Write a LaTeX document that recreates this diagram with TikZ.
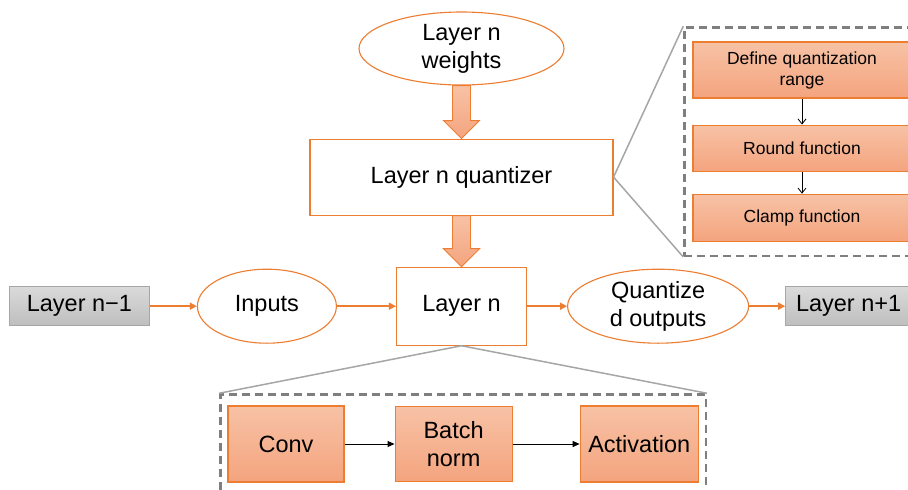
\documentclass[tikz,border=0pt]{standalone}
\usepackage{fontspec}
\setmainfont{Liberation Sans}
\usepackage{tikz}
\usetikzlibrary{positioning, calc, arrows.meta, shapes.geometric, fit}

\definecolor{qorange}{HTML}{ED7D31}
\definecolor{qfilltop}{HTML}{F7C2A6}
\definecolor{qfillbot}{HTML}{F4A47E}
\definecolor{qgraytop}{HTML}{DADADA}
\definecolor{qgraybot}{HTML}{BEBEBE}
\definecolor{qgrayline}{HTML}{A6A6A6}
\definecolor{qdash}{HTML}{7F7F7F}

\newcommand{\bigtext}{\fontsize{23.5}{28}\selectfont}
\newcommand{\smalltext}{\fontsize{17.5}{21}\selectfont}

% block arrow from the bottom of one node to the top of another
\newcommand{\fatarrow}[2]{%
  \path[fatarrowstyle] let \p1=(#1.south), \p2=(#2.north) in
    (\x1-9pt,\y1) -- (\x1+9pt,\y1) -- (\x1+9pt,\y2+18pt) -- (\x1+18pt,\y2+18pt)
    -- (\x1,\y2) -- (\x1-18pt,\y2+18pt) -- (\x1-9pt,\y2+18pt) -- cycle;}

\begin{document}
\begin{tikzpicture}
    [x=1pt, y=-1pt,
    ovalnode/.style={ellipse, draw=qorange, fill=white, line width=1.1pt, inner sep=0pt, align=center, font=\bigtext},
    plainnode/.style={rectangle, draw=qorange, fill=white, line width=1.1pt, inner sep=0pt, align=center, font=\bigtext},
    graynode/.style={rectangle, draw=qgrayline, top color=qgraytop, bottom color=qgraybot, line width=0.9pt, inner sep=0pt, font=\bigtext},
    procnode/.style={rectangle, draw=qorange, top color=qfilltop, bottom color=qfillbot, line width=1.1pt, inner sep=0pt, align=center},
    dashbox/.style={rectangle, draw=qdash, dash pattern=on 8pt off 5pt, line width=2.4pt},
    zoomline/.style={draw=qgrayline, line width=1.5pt},
    orangearrow/.style={draw=qorange, line width=1.5pt, -{Triangle[length=7pt, width=7pt]}},
    thinarrow/.style={draw=black, line width=0.8pt, -{Straight Barb[length=5pt, width=8pt]}},
    blackarrow/.style={draw=black, line width=0.9pt, -{Triangle[length=7pt, width=6pt]}},
    fatarrowstyle/.style={draw=qorange, line width=0.9pt, top color=qfilltop, bottom color=qfillbot},]

    \fill[white] (0,0) rectangle (908,490);
    \useasboundingbox (0,0) rectangle (908,490);

    %Nodes
    \node[ovalnode, minimum width=205pt, minimum height=73pt](weights) at (461.5,48.5){Layer n\\weights};
    \node[plainnode, minimum width=303pt, minimum height=76pt](quantizer)[below=53pt of weights]{Layer n quantizer};
    \node[plainnode, minimum width=130pt, minimum height=78pt](layern)[below=51pt of quantizer]{Layer n};

    \node[ovalnode, minimum width=139pt, minimum height=74pt](inputs)[left=59pt of layern]{Inputs};
    \node[graynode, minimum width=140pt, minimum height=39pt](nminus)[left=47pt of inputs]{Layer n−1};
    \node[ovalnode, minimum width=181pt, minimum height=74pt](qoutputs)[right=40pt of layern]{Quantize\\d outputs};
    \node[graynode, minimum width=126pt, minimum height=39pt](nplus)[right=36pt of qoutputs]{Layer n+1};

    \node[procnode, minimum width=218pt, minimum height=56pt, font=\smalltext](define) at (802,70){Define quantization\\range};
    \node[procnode, minimum width=218pt, minimum height=46pt, font=\smalltext](round)[below=26pt of define]{Round function};
    \node[procnode, minimum width=218pt, minimum height=47pt, font=\smalltext](clamp)[below=22pt of round]{Clamp function};
    \node[dashbox, inner xsep=8pt, inner ysep=14pt, fit=(define)(clamp)](qbox){};

    \node[procnode, minimum width=116pt, minimum height=76pt, font=\bigtext](conv) at (286,444){Conv};
    \node[procnode, minimum width=117pt, minimum height=75pt, font=\bigtext](batch)[right=50pt of conv]{Batch\\norm};
    \node[procnode, minimum width=118pt, minimum height=76pt, font=\bigtext](activation)[right=67pt of batch]{Activation};
    \node[dashbox, inner xsep=7pt, inner ysep=11pt, fit=(conv)(batch)(activation)](lbox){};

    %Lines
    \fatarrow{weights}{quantizer}
    \fatarrow{quantizer}{layern}

    \draw[orangearrow](nminus)--(inputs);
    \draw[orangearrow](inputs)--(layern);
    \draw[orangearrow](layern)--(qoutputs);
    \draw[orangearrow](qoutputs)--(nplus);

    \draw[thinarrow](define)--(round);
    \draw[thinarrow](round)--(clamp);
    \draw[blackarrow](conv)--(batch);
    \draw[blackarrow](batch)--(activation);

    \draw[zoomline](quantizer.east)--(qbox.north west);
    \draw[zoomline](quantizer.east)--(qbox.south west);
    \draw[zoomline](layern.south)--(lbox.north west);
    \draw[zoomline](layern.south)--(lbox.north east);

\end{tikzpicture}
\end{document}
